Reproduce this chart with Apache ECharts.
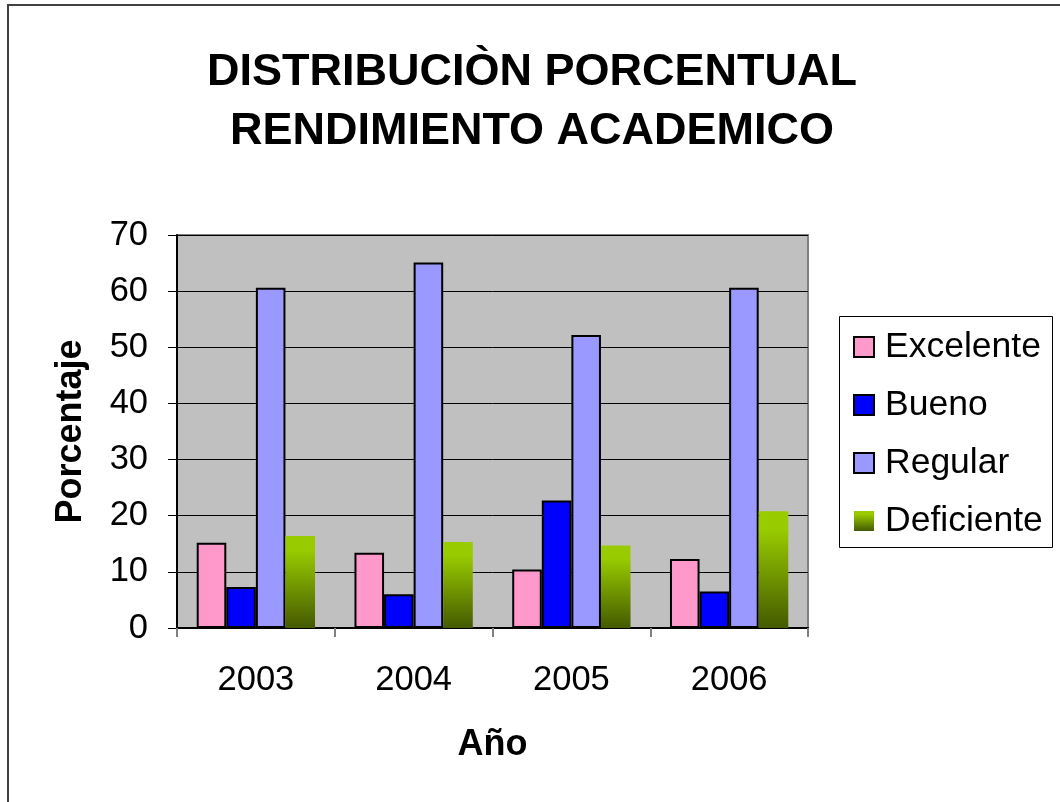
<!DOCTYPE html>
<html>
<head>
<meta charset="utf-8">
<script src="https://cdn.jsdelivr.net/npm/echarts@6/dist/echarts.min.js"></script>
<style>html,body{margin:0;padding:0;background:#fff;}#c{width:1060px;height:802px;}</style>
</head>
<body>
<div id="c"></div>
<script>
const categories = ['2003', '2004', '2005', '2006'];
const excelente = [15.2, 13.4, 10.4, 12.3];
const bueno = [7.3, 6.0, 22.7, 6.5];
const regular = [60.6, 65.1, 52.2, 60.6];
const deficiente = [16.4, 15.3, 14.7, 20.8];
const seriesNames = ['Excelente', 'Bueno', 'Regular', 'Deficiente'];

const FONT = 'Liberation Sans, Arial, sans-serif';
const chart = echarts.init(document.getElementById('c'), null, {renderer: 'canvas'});

const barBorder = {borderColor: '#000', borderWidth: 2};
const option = {
  backgroundColor: '#fff',
  animation: false,
  title: {
    text: 'DISTRIBUCIÒN PORCENTUAL\nRENDIMIENTO ACADEMICO',
    left: 527, top: 38, textAlign: 'center',
    textStyle: {fontFamily: FONT, fontSize: 45, fontWeight: 'bold', color: '#000', lineHeight: 59}
  },
  graphic: [
    {type: 'rect', shape: {x: 8, y: 5, width: 1070, height: 820}, style: {fill: 'none', stroke: '#404040', lineWidth: 2}, z: -1},
    {type: 'rect', shape: {x: 839.5, y: 316.5, width: 213, height: 231}, style: {fill: '#fff', stroke: '#000', lineWidth: 1}, z: 0}
  ],
  legend: {
    orient: 'vertical', left: 853, top: 329, padding: 0,
    icon: 'rect',
    itemWidth: 20, itemHeight: 20, itemGap: 22,
    textStyle: {fontFamily: FONT, fontSize: 35.5, color: '#000', lineHeight: 36, padding: [0, 0, 0, 6]},
    data: seriesNames,
    z: 5
  },
  grid: {
    left: 177, right: 252, top: 235, bottom: 174,
    show: true, backgroundColor: '#C0C0C0', borderColor: '#808080', borderWidth: 2
  },
  xAxis: {
    type: 'category', data: categories,
    name: 'Año', nameLocation: 'middle', nameGap: 99,
    nameTextStyle: {fontFamily: FONT, fontSize: 36, fontWeight: 'bold', color: '#000'},
    axisLine: {show: true, lineStyle: {color: '#000', width: 2}},
    axisTick: {show: true, alignWithLabel: false, length: 9, lineStyle: {color: '#808080', width: 2}},
    axisLabel: {fontFamily: FONT, fontSize: 34.5, color: '#000', margin: 35},
    splitLine: {show: false}
  },
  yAxis: {
    type: 'value', min: 0, max: 70, interval: 10,
    name: 'Porcentaje', nameLocation: 'middle', nameGap: 88,
    nameTextStyle: {fontFamily: FONT, fontSize: 36, fontWeight: 'bold', color: '#000'},
    axisLine: {show: true, lineStyle: {color: '#000', width: 2}},
    axisTick: {show: true, length: 9, lineStyle: {color: '#000', width: 1}},
    axisLabel: {fontFamily: FONT, fontSize: 34.5, color: '#000', margin: 29},
    splitLine: {show: true, lineStyle: {color: '#000', width: 1}}
  },
  series: [
    {name: seriesNames[0], type: 'bar', data: excelente, barGap: '0%', barCategoryGap: '25%',
     itemStyle: Object.assign({color: '#FF99CC'}, barBorder)},
    {name: seriesNames[1], type: 'bar', data: bueno,
     itemStyle: Object.assign({color: '#0000FF'}, barBorder)},
    {name: seriesNames[2], type: 'bar', data: regular,
     itemStyle: Object.assign({color: '#9999FF'}, barBorder)},
    {name: seriesNames[3], type: 'bar', data: deficiente,
     itemStyle: {
       color: new echarts.graphic.LinearGradient(0, 0, 0, 1, [
         {offset: 0, color: '#99CC00'}, {offset: 0.15, color: '#99CC00'}, {offset: 1, color: '#445A00'}
       ]),
       borderWidth: 0
     }}
  ]
};
chart.setOption(option);
</script>
</body>
</html>
